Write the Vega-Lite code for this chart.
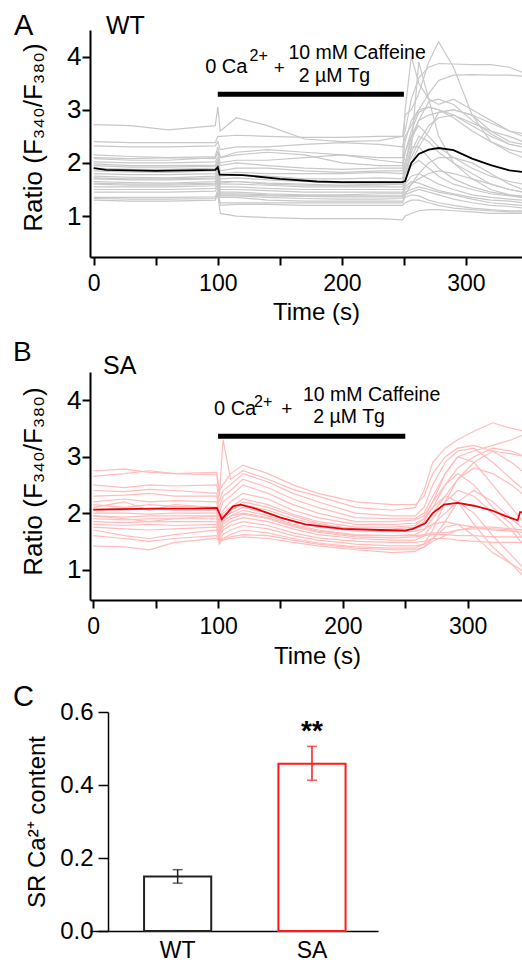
{
"$schema":"https://vega.github.io/schema/vega-lite/v6.json",
"padding":{"left":12,"top":12,"right":0,"bottom":0},
"config":{"font":"Liberation Sans","view":{"stroke":null},"axis":{"grid":false,"domainColor":"black","tickColor":"black","labelColor":"black","titleColor":"black","titleFontWeight":"normal","labelFont":"Liberation Sans","titleFont":"Liberation Sans"},"text":{"font":"Liberation Sans","color":"black"},"title":{"font":"Liberation Sans","color":"black"}},
"datasets":{
"A":[
{"c":"a1","t":0,"r":2.72},{"c":"a1","t":30,"r":2.7},{"c":"a1","t":60,"r":2.62},{"c":"a1","t":98,"r":2.7},{"c":"a1","t":100,"r":3.05},{"c":"a1","t":102,"r":2.6},{"c":"a1","t":115,"r":2.85},{"c":"a1","t":140,"r":2.7},{"c":"a1","t":170,"r":2.45},{"c":"a1","t":200,"r":2.4},{"c":"a1","t":230,"r":2.42},{"c":"a1","t":249,"r":2.5},{"c":"a1","t":251,"r":2.9},{"c":"a1","t":256,"r":3},{"c":"a1","t":262,"r":3.3},{"c":"a1","t":270,"r":3.9},{"c":"a1","t":278,"r":4.28},{"c":"a1","t":290,"r":3.8},{"c":"a1","t":305,"r":2.9},{"c":"a1","t":320,"r":2.4},{"c":"a1","t":335,"r":2.2},{"c":"a1","t":346,"r":2.1},
{"c":"a2","t":0,"r":2.4},{"c":"a2","t":30,"r":2.38},{"c":"a2","t":60,"r":2.38},{"c":"a2","t":98,"r":2.38},{"c":"a2","t":100,"r":2.5},{"c":"a2","t":102,"r":2.5},{"c":"a2","t":115,"r":2.52},{"c":"a2","t":140,"r":2.5},{"c":"a2","t":170,"r":2.48},{"c":"a2","t":200,"r":2.48},{"c":"a2","t":230,"r":2.5},{"c":"a2","t":249,"r":2.5},{"c":"a2","t":251,"r":2.6},{"c":"a2","t":256,"r":3.2},{"c":"a2","t":262,"r":3.6},{"c":"a2","t":270,"r":3.8},{"c":"a2","t":278,"r":3.87},{"c":"a2","t":290,"r":3.86},{"c":"a2","t":305,"r":3.85},{"c":"a2","t":320,"r":3.85},{"c":"a2","t":335,"r":3.8},{"c":"a2","t":346,"r":3.7},
{"c":"a3","t":0,"r":2.32},{"c":"a3","t":30,"r":2.3},{"c":"a3","t":60,"r":2.3},{"c":"a3","t":98,"r":2.32},{"c":"a3","t":100,"r":2.4},{"c":"a3","t":102,"r":2.25},{"c":"a3","t":115,"r":2.3},{"c":"a3","t":140,"r":2.3},{"c":"a3","t":170,"r":2.35},{"c":"a3","t":200,"r":2.38},{"c":"a3","t":230,"r":2.35},{"c":"a3","t":249,"r":2.3},{"c":"a3","t":251,"r":2.5},{"c":"a3","t":256,"r":2.7},{"c":"a3","t":262,"r":3},{"c":"a3","t":270,"r":3.3},{"c":"a3","t":278,"r":3.55},{"c":"a3","t":290,"r":3.65},{"c":"a3","t":305,"r":3.66},{"c":"a3","t":320,"r":3.65},{"c":"a3","t":335,"r":3.65},{"c":"a3","t":346,"r":3.63},
{"c":"a4","t":0,"r":2.15},{"c":"a4","t":30,"r":2.12},{"c":"a4","t":60,"r":2.1},{"c":"a4","t":98,"r":2.12},{"c":"a4","t":100,"r":2.3},{"c":"a4","t":102,"r":2.1},{"c":"a4","t":115,"r":2.2},{"c":"a4","t":140,"r":2.25},{"c":"a4","t":170,"r":2.2},{"c":"a4","t":200,"r":2.15},{"c":"a4","t":230,"r":2.1},{"c":"a4","t":249,"r":2.1},{"c":"a4","t":251,"r":3},{"c":"a4","t":256,"r":4},{"c":"a4","t":262,"r":3.5},{"c":"a4","t":270,"r":3.2},{"c":"a4","t":278,"r":3.1},{"c":"a4","t":290,"r":3.2},{"c":"a4","t":305,"r":3},{"c":"a4","t":320,"r":2.8},{"c":"a4","t":335,"r":2.6},{"c":"a4","t":346,"r":2.5},
{"c":"a5","t":0,"r":2.08},{"c":"a5","t":30,"r":2.05},{"c":"a5","t":60,"r":2.05},{"c":"a5","t":98,"r":2.1},{"c":"a5","t":100,"r":2.2},{"c":"a5","t":102,"r":2},{"c":"a5","t":115,"r":2.05},{"c":"a5","t":140,"r":2.05},{"c":"a5","t":170,"r":2.1},{"c":"a5","t":200,"r":2.15},{"c":"a5","t":230,"r":2.05},{"c":"a5","t":249,"r":2},{"c":"a5","t":251,"r":2.4},{"c":"a5","t":256,"r":2.8},{"c":"a5","t":262,"r":3},{"c":"a5","t":270,"r":3.05},{"c":"a5","t":278,"r":3},{"c":"a5","t":290,"r":2.9},{"c":"a5","t":305,"r":2.75},{"c":"a5","t":320,"r":2.6},{"c":"a5","t":335,"r":2.5},{"c":"a5","t":346,"r":2.4},
{"c":"a6","t":0,"r":2.02},{"c":"a6","t":30,"r":2},{"c":"a6","t":60,"r":2},{"c":"a6","t":98,"r":2.02},{"c":"a6","t":100,"r":2.1},{"c":"a6","t":102,"r":1.95},{"c":"a6","t":115,"r":2},{"c":"a6","t":140,"r":1.95},{"c":"a6","t":170,"r":1.9},{"c":"a6","t":200,"r":1.88},{"c":"a6","t":230,"r":1.9},{"c":"a6","t":249,"r":1.9},{"c":"a6","t":251,"r":2.2},{"c":"a6","t":256,"r":2.6},{"c":"a6","t":262,"r":2.95},{"c":"a6","t":270,"r":3.05},{"c":"a6","t":278,"r":3},{"c":"a6","t":290,"r":2.85},{"c":"a6","t":305,"r":2.6},{"c":"a6","t":320,"r":2.4},{"c":"a6","t":335,"r":2.25},{"c":"a6","t":346,"r":2.2},
{"c":"a7","t":0,"r":1.98},{"c":"a7","t":30,"r":1.95},{"c":"a7","t":60,"r":1.95},{"c":"a7","t":98,"r":1.96},{"c":"a7","t":100,"r":2.05},{"c":"a7","t":102,"r":1.85},{"c":"a7","t":115,"r":1.9},{"c":"a7","t":140,"r":1.9},{"c":"a7","t":170,"r":1.85},{"c":"a7","t":200,"r":1.82},{"c":"a7","t":230,"r":1.85},{"c":"a7","t":249,"r":1.85},{"c":"a7","t":251,"r":2},{"c":"a7","t":256,"r":2.4},{"c":"a7","t":262,"r":2.8},{"c":"a7","t":270,"r":3.15},{"c":"a7","t":278,"r":3.2},{"c":"a7","t":290,"r":3.1},{"c":"a7","t":305,"r":2.8},{"c":"a7","t":320,"r":2.55},{"c":"a7","t":335,"r":2.35},{"c":"a7","t":346,"r":2.3},
{"c":"a8","t":0,"r":1.95},{"c":"a8","t":30,"r":1.92},{"c":"a8","t":60,"r":1.92},{"c":"a8","t":98,"r":1.94},{"c":"a8","t":100,"r":2},{"c":"a8","t":102,"r":1.8},{"c":"a8","t":115,"r":1.82},{"c":"a8","t":140,"r":1.8},{"c":"a8","t":170,"r":1.8},{"c":"a8","t":200,"r":1.8},{"c":"a8","t":230,"r":1.82},{"c":"a8","t":249,"r":1.8},{"c":"a8","t":251,"r":1.9},{"c":"a8","t":256,"r":2.1},{"c":"a8","t":262,"r":2.4},{"c":"a8","t":270,"r":2.7},{"c":"a8","t":278,"r":2.85},{"c":"a8","t":290,"r":2.9},{"c":"a8","t":305,"r":2.7},{"c":"a8","t":320,"r":2.5},{"c":"a8","t":335,"r":2.35},{"c":"a8","t":346,"r":2.3},
{"c":"a9","t":0,"r":1.9},{"c":"a9","t":30,"r":1.88},{"c":"a9","t":60,"r":1.88},{"c":"a9","t":98,"r":1.9},{"c":"a9","t":100,"r":2},{"c":"a9","t":102,"r":1.75},{"c":"a9","t":115,"r":1.78},{"c":"a9","t":140,"r":1.75},{"c":"a9","t":170,"r":1.7},{"c":"a9","t":200,"r":1.7},{"c":"a9","t":230,"r":1.72},{"c":"a9","t":249,"r":1.7},{"c":"a9","t":251,"r":2},{"c":"a9","t":256,"r":2.5},{"c":"a9","t":262,"r":2.7},{"c":"a9","t":270,"r":2.5},{"c":"a9","t":278,"r":2.3},{"c":"a9","t":290,"r":2.1},{"c":"a9","t":305,"r":1.9},{"c":"a9","t":320,"r":1.75},{"c":"a9","t":335,"r":1.65},{"c":"a9","t":346,"r":1.6},
{"c":"a10","t":0,"r":1.85},{"c":"a10","t":30,"r":1.83},{"c":"a10","t":60,"r":1.82},{"c":"a10","t":98,"r":1.85},{"c":"a10","t":100,"r":1.95},{"c":"a10","t":102,"r":1.7},{"c":"a10","t":115,"r":1.72},{"c":"a10","t":140,"r":1.68},{"c":"a10","t":170,"r":1.65},{"c":"a10","t":200,"r":1.62},{"c":"a10","t":230,"r":1.62},{"c":"a10","t":249,"r":1.62},{"c":"a10","t":251,"r":1.8},{"c":"a10","t":256,"r":2.2},{"c":"a10","t":262,"r":2.5},{"c":"a10","t":270,"r":2.4},{"c":"a10","t":278,"r":2.2},{"c":"a10","t":290,"r":2},{"c":"a10","t":305,"r":1.8},{"c":"a10","t":320,"r":1.6},{"c":"a10","t":335,"r":1.5},{"c":"a10","t":346,"r":1.45},
{"c":"a11","t":0,"r":1.8},{"c":"a11","t":30,"r":1.78},{"c":"a11","t":60,"r":1.78},{"c":"a11","t":98,"r":1.8},{"c":"a11","t":100,"r":1.9},{"c":"a11","t":102,"r":1.65},{"c":"a11","t":115,"r":1.65},{"c":"a11","t":140,"r":1.6},{"c":"a11","t":170,"r":1.58},{"c":"a11","t":200,"r":1.58},{"c":"a11","t":230,"r":1.58},{"c":"a11","t":249,"r":1.6},{"c":"a11","t":251,"r":1.9},{"c":"a11","t":256,"r":2.3},{"c":"a11","t":262,"r":2.3},{"c":"a11","t":270,"r":2.1},{"c":"a11","t":278,"r":1.9},{"c":"a11","t":290,"r":1.7},{"c":"a11","t":305,"r":1.55},{"c":"a11","t":320,"r":1.45},{"c":"a11","t":335,"r":1.4},{"c":"a11","t":346,"r":1.38},
{"c":"a12","t":0,"r":1.75},{"c":"a12","t":30,"r":1.73},{"c":"a12","t":60,"r":1.72},{"c":"a12","t":98,"r":1.75},{"c":"a12","t":100,"r":1.85},{"c":"a12","t":102,"r":1.6},{"c":"a12","t":115,"r":1.6},{"c":"a12","t":140,"r":1.58},{"c":"a12","t":170,"r":1.55},{"c":"a12","t":200,"r":1.55},{"c":"a12","t":230,"r":1.55},{"c":"a12","t":249,"r":1.55},{"c":"a12","t":251,"r":1.7},{"c":"a12","t":256,"r":1.95},{"c":"a12","t":262,"r":2.05},{"c":"a12","t":270,"r":1.9},{"c":"a12","t":278,"r":1.75},{"c":"a12","t":290,"r":1.6},{"c":"a12","t":305,"r":1.5},{"c":"a12","t":320,"r":1.42},{"c":"a12","t":335,"r":1.38},{"c":"a12","t":346,"r":1.35},
{"c":"a13","t":0,"r":1.7},{"c":"a13","t":30,"r":1.68},{"c":"a13","t":60,"r":1.68},{"c":"a13","t":98,"r":1.7},{"c":"a13","t":100,"r":1.8},{"c":"a13","t":102,"r":1.55},{"c":"a13","t":115,"r":1.55},{"c":"a13","t":140,"r":1.52},{"c":"a13","t":170,"r":1.5},{"c":"a13","t":200,"r":1.5},{"c":"a13","t":230,"r":1.5},{"c":"a13","t":249,"r":1.5},{"c":"a13","t":251,"r":1.6},{"c":"a13","t":256,"r":1.75},{"c":"a13","t":262,"r":1.8},{"c":"a13","t":270,"r":1.7},{"c":"a13","t":278,"r":1.6},{"c":"a13","t":290,"r":1.5},{"c":"a13","t":305,"r":1.4},{"c":"a13","t":320,"r":1.35},{"c":"a13","t":335,"r":1.32},{"c":"a13","t":346,"r":1.3},
{"c":"a14","t":0,"r":1.65},{"c":"a14","t":30,"r":1.63},{"c":"a14","t":60,"r":1.62},{"c":"a14","t":98,"r":1.65},{"c":"a14","t":100,"r":1.75},{"c":"a14","t":102,"r":1.5},{"c":"a14","t":115,"r":1.5},{"c":"a14","t":140,"r":1.48},{"c":"a14","t":170,"r":1.45},{"c":"a14","t":200,"r":1.45},{"c":"a14","t":230,"r":1.45},{"c":"a14","t":249,"r":1.45},{"c":"a14","t":251,"r":1.55},{"c":"a14","t":256,"r":1.65},{"c":"a14","t":262,"r":1.62},{"c":"a14","t":270,"r":1.55},{"c":"a14","t":278,"r":1.48},{"c":"a14","t":290,"r":1.42},{"c":"a14","t":305,"r":1.35},{"c":"a14","t":320,"r":1.3},{"c":"a14","t":335,"r":1.28},{"c":"a14","t":346,"r":1.25},
{"c":"a15","t":0,"r":1.6},{"c":"a15","t":30,"r":1.58},{"c":"a15","t":60,"r":1.58},{"c":"a15","t":98,"r":1.6},{"c":"a15","t":100,"r":1.7},{"c":"a15","t":102,"r":1.45},{"c":"a15","t":115,"r":1.45},{"c":"a15","t":140,"r":1.42},{"c":"a15","t":170,"r":1.4},{"c":"a15","t":200,"r":1.4},{"c":"a15","t":230,"r":1.42},{"c":"a15","t":249,"r":1.42},{"c":"a15","t":251,"r":1.5},{"c":"a15","t":256,"r":1.6},{"c":"a15","t":262,"r":1.7},{"c":"a15","t":270,"r":1.8},{"c":"a15","t":278,"r":1.85},{"c":"a15","t":290,"r":1.8},{"c":"a15","t":305,"r":1.7},{"c":"a15","t":320,"r":1.6},{"c":"a15","t":335,"r":1.5},{"c":"a15","t":346,"r":1.45},
{"c":"a16","t":0,"r":1.55},{"c":"a16","t":30,"r":1.55},{"c":"a16","t":60,"r":1.55},{"c":"a16","t":98,"r":1.57},{"c":"a16","t":100,"r":1.65},{"c":"a16","t":102,"r":1.42},{"c":"a16","t":115,"r":1.42},{"c":"a16","t":140,"r":1.4},{"c":"a16","t":170,"r":1.38},{"c":"a16","t":200,"r":1.38},{"c":"a16","t":230,"r":1.38},{"c":"a16","t":249,"r":1.38},{"c":"a16","t":251,"r":1.45},{"c":"a16","t":256,"r":1.5},{"c":"a16","t":262,"r":1.55},{"c":"a16","t":270,"r":1.5},{"c":"a16","t":278,"r":1.45},{"c":"a16","t":290,"r":1.4},{"c":"a16","t":305,"r":1.32},{"c":"a16","t":320,"r":1.25},{"c":"a16","t":335,"r":1.22},{"c":"a16","t":346,"r":1.2},
{"c":"a17","t":0,"r":1.5},{"c":"a17","t":30,"r":1.5},{"c":"a17","t":60,"r":1.5},{"c":"a17","t":98,"r":1.52},{"c":"a17","t":100,"r":1.6},{"c":"a17","t":102,"r":1.38},{"c":"a17","t":115,"r":1.38},{"c":"a17","t":140,"r":1.35},{"c":"a17","t":170,"r":1.33},{"c":"a17","t":200,"r":1.32},{"c":"a17","t":230,"r":1.32},{"c":"a17","t":249,"r":1.33},{"c":"a17","t":251,"r":1.4},{"c":"a17","t":256,"r":1.45},{"c":"a17","t":262,"r":1.5},{"c":"a17","t":270,"r":1.45},{"c":"a17","t":278,"r":1.4},{"c":"a17","t":290,"r":1.32},{"c":"a17","t":305,"r":1.25},{"c":"a17","t":320,"r":1.2},{"c":"a17","t":335,"r":1.18},{"c":"a17","t":346,"r":1.15},
{"c":"a18","t":0,"r":1.45},{"c":"a18","t":30,"r":1.45},{"c":"a18","t":60,"r":1.45},{"c":"a18","t":98,"r":1.47},{"c":"a18","t":100,"r":1.55},{"c":"a18","t":102,"r":1.35},{"c":"a18","t":115,"r":1.35},{"c":"a18","t":140,"r":1.3},{"c":"a18","t":170,"r":1.28},{"c":"a18","t":200,"r":1.28},{"c":"a18","t":230,"r":1.28},{"c":"a18","t":249,"r":1.28},{"c":"a18","t":251,"r":1.35},{"c":"a18","t":256,"r":1.4},{"c":"a18","t":262,"r":1.38},{"c":"a18","t":270,"r":1.3},{"c":"a18","t":278,"r":1.25},{"c":"a18","t":290,"r":1.2},{"c":"a18","t":305,"r":1.15},{"c":"a18","t":320,"r":1.12},{"c":"a18","t":335,"r":1.1},{"c":"a18","t":346,"r":1.1},
{"c":"a19","t":0,"r":1.33},{"c":"a19","t":30,"r":1.32},{"c":"a19","t":60,"r":1.32},{"c":"a19","t":98,"r":1.33},{"c":"a19","t":100,"r":1.5},{"c":"a19","t":102,"r":1.2},{"c":"a19","t":115,"r":1.22},{"c":"a19","t":140,"r":1.22},{"c":"a19","t":170,"r":1.2},{"c":"a19","t":200,"r":1.2},{"c":"a19","t":230,"r":1.2},{"c":"a19","t":249,"r":1.2},{"c":"a19","t":251,"r":1.25},{"c":"a19","t":256,"r":1.3},{"c":"a19","t":262,"r":1.3},{"c":"a19","t":270,"r":1.25},{"c":"a19","t":278,"r":1.2},{"c":"a19","t":290,"r":1.15},{"c":"a19","t":305,"r":1.12},{"c":"a19","t":320,"r":1.1},{"c":"a19","t":335,"r":1.08},{"c":"a19","t":346,"r":1.08},
{"c":"a20","t":0,"r":1.3},{"c":"a20","t":30,"r":1.28},{"c":"a20","t":60,"r":1.28},{"c":"a20","t":98,"r":1.3},{"c":"a20","t":100,"r":1.4},{"c":"a20","t":102,"r":1.05},{"c":"a20","t":115,"r":1},{"c":"a20","t":140,"r":0.97},{"c":"a20","t":170,"r":0.95},{"c":"a20","t":200,"r":0.95},{"c":"a20","t":230,"r":0.95},{"c":"a20","t":249,"r":0.93},{"c":"a20","t":251,"r":1},{"c":"a20","t":256,"r":1.05},{"c":"a20","t":262,"r":1.1},{"c":"a20","t":270,"r":1.12},{"c":"a20","t":278,"r":1.12},{"c":"a20","t":290,"r":1.1},{"c":"a20","t":305,"r":1.08},{"c":"a20","t":320,"r":1.05},{"c":"a20","t":335,"r":1.05},{"c":"a20","t":346,"r":1.05},
{"c":"a21","t":0,"r":2.1},{"c":"a21","t":30,"r":2.08},{"c":"a21","t":60,"r":2.1},{"c":"a21","t":98,"r":2.08},{"c":"a21","t":100,"r":2.2},{"c":"a21","t":102,"r":2.1},{"c":"a21","t":115,"r":2.15},{"c":"a21","t":140,"r":2.2},{"c":"a21","t":170,"r":2.15},{"c":"a21","t":200,"r":2},{"c":"a21","t":230,"r":1.95},{"c":"a21","t":249,"r":1.95},{"c":"a21","t":251,"r":2.2},{"c":"a21","t":256,"r":2.5},{"c":"a21","t":262,"r":2.8},{"c":"a21","t":270,"r":2.9},{"c":"a21","t":278,"r":2.95},{"c":"a21","t":290,"r":3},{"c":"a21","t":305,"r":2.9},{"c":"a21","t":320,"r":2.75},{"c":"a21","t":335,"r":2.6},{"c":"a21","t":346,"r":2.55},
{"c":"a22","t":0,"r":1.72},{"c":"a22","t":30,"r":1.7},{"c":"a22","t":60,"r":1.7},{"c":"a22","t":98,"r":1.72},{"c":"a22","t":100,"r":1.8},{"c":"a22","t":102,"r":1.62},{"c":"a22","t":115,"r":1.65},{"c":"a22","t":140,"r":1.62},{"c":"a22","t":170,"r":1.6},{"c":"a22","t":200,"r":1.58},{"c":"a22","t":230,"r":1.6},{"c":"a22","t":249,"r":1.6},{"c":"a22","t":251,"r":1.8},{"c":"a22","t":256,"r":2},{"c":"a22","t":262,"r":2.3},{"c":"a22","t":270,"r":2.6},{"c":"a22","t":278,"r":2.95},{"c":"a22","t":290,"r":3},{"c":"a22","t":305,"r":2.9},{"c":"a22","t":320,"r":2.6},{"c":"a22","t":335,"r":2.4},{"c":"a22","t":346,"r":2.35},
{"c":"a23","t":0,"r":1.62},{"c":"a23","t":30,"r":1.6},{"c":"a23","t":60,"r":1.6},{"c":"a23","t":98,"r":1.62},{"c":"a23","t":100,"r":1.7},{"c":"a23","t":102,"r":1.4},{"c":"a23","t":115,"r":1.4},{"c":"a23","t":140,"r":1.38},{"c":"a23","t":170,"r":1.37},{"c":"a23","t":200,"r":1.36},{"c":"a23","t":230,"r":1.36},{"c":"a23","t":249,"r":1.36},{"c":"a23","t":251,"r":1.6},{"c":"a23","t":256,"r":2.3},{"c":"a23","t":262,"r":3.9},{"c":"a23","t":270,"r":3.2},{"c":"a23","t":278,"r":2.5},{"c":"a23","t":290,"r":2},{"c":"a23","t":305,"r":1.7},{"c":"a23","t":320,"r":1.5},{"c":"a23","t":335,"r":1.4},{"c":"a23","t":346,"r":1.35},
{"c":"a24","t":0,"r":1.35},{"c":"a24","t":30,"r":1.35},{"c":"a24","t":60,"r":1.35},{"c":"a24","t":98,"r":1.36},{"c":"a24","t":100,"r":1.45},{"c":"a24","t":102,"r":1.25},{"c":"a24","t":115,"r":1.25},{"c":"a24","t":140,"r":1.25},{"c":"a24","t":170,"r":1.25},{"c":"a24","t":200,"r":1.25},{"c":"a24","t":230,"r":1.25},{"c":"a24","t":249,"r":1.25},{"c":"a24","t":251,"r":1.4},{"c":"a24","t":256,"r":1.6},{"c":"a24","t":262,"r":1.8},{"c":"a24","t":270,"r":2},{"c":"a24","t":278,"r":2.1},{"c":"a24","t":290,"r":2.1},{"c":"a24","t":305,"r":2},{"c":"a24","t":320,"r":1.8},{"c":"a24","t":335,"r":1.6},{"c":"a24","t":346,"r":1.5}
],
"Am":[
{"t":0,"r":1.9},{"t":10,"r":1.87},{"t":50,"r":1.85},{"t":98,"r":1.87},{"t":100,"r":1.92},{"t":101.5,"r":1.78},{"t":120,"r":1.77},{"t":150,"r":1.7},{"t":180,"r":1.65},{"t":200,"r":1.64},{"t":249,"r":1.64},{"t":251,"r":1.66},{"t":256,"r":2},{"t":262,"r":2.17},{"t":270,"r":2.25},{"t":278,"r":2.28},{"t":290,"r":2.24},{"t":305,"r":2.08},{"t":320,"r":1.96},{"t":335,"r":1.86},{"t":346,"r":1.83}
],
"B":[
{"c":"b1","t":0,"r":2.75},{"c":"b1","t":25,"r":2.78},{"c":"b1","t":45,"r":2.72},{"c":"b1","t":65,"r":2.7},{"c":"b1","t":99,"r":2.72},{"c":"b1","t":101,"r":2.4},{"c":"b1","t":104,"r":2.5},{"c":"b1","t":110,"r":2.7},{"c":"b1","t":120,"r":2.85},{"c":"b1","t":140,"r":2.7},{"c":"b1","t":160,"r":2.5},{"c":"b1","t":180,"r":2.35},{"c":"b1","t":210,"r":2.2},{"c":"b1","t":240,"r":2.15},{"c":"b1","t":258,"r":2.15},{"c":"b1","t":265,"r":2.3},{"c":"b1","t":272,"r":2.7},{"c":"b1","t":282,"r":3},{"c":"b1","t":292,"r":3.15},{"c":"b1","t":305,"r":3.2},{"c":"b1","t":320,"r":3.1},{"c":"b1","t":335,"r":2.9},{"c":"b1","t":346,"r":2.7},
{"c":"b2","t":0,"r":2.65},{"c":"b2","t":25,"r":2.7},{"c":"b2","t":45,"r":2.75},{"c":"b2","t":65,"r":2.7},{"c":"b2","t":99,"r":2.68},{"c":"b2","t":101,"r":2.3},{"c":"b2","t":104,"r":3.3},{"c":"b2","t":110,"r":2.6},{"c":"b2","t":120,"r":2.75},{"c":"b2","t":140,"r":2.6},{"c":"b2","t":160,"r":2.42},{"c":"b2","t":180,"r":2.3},{"c":"b2","t":210,"r":2.1},{"c":"b2","t":240,"r":2.05},{"c":"b2","t":258,"r":2.1},{"c":"b2","t":265,"r":2.4},{"c":"b2","t":272,"r":2.9},{"c":"b2","t":282,"r":3.15},{"c":"b2","t":292,"r":3.3},{"c":"b2","t":305,"r":3.45},{"c":"b2","t":320,"r":3.6},{"c":"b2","t":335,"r":3.5},{"c":"b2","t":346,"r":3.45},
{"c":"b3","t":0,"r":2.5},{"c":"b3","t":25,"r":2.45},{"c":"b3","t":45,"r":2.5},{"c":"b3","t":65,"r":2.48},{"c":"b3","t":99,"r":2.5},{"c":"b3","t":101,"r":2.2},{"c":"b3","t":104,"r":2.4},{"c":"b3","t":110,"r":2.5},{"c":"b3","t":120,"r":2.7},{"c":"b3","t":140,"r":2.55},{"c":"b3","t":160,"r":2.35},{"c":"b3","t":180,"r":2.2},{"c":"b3","t":210,"r":2},{"c":"b3","t":240,"r":1.95},{"c":"b3","t":258,"r":1.95},{"c":"b3","t":265,"r":2.1},{"c":"b3","t":272,"r":2.5},{"c":"b3","t":282,"r":2.9},{"c":"b3","t":292,"r":3.1},{"c":"b3","t":305,"r":3.15},{"c":"b3","t":320,"r":2.9},{"c":"b3","t":335,"r":2.6},{"c":"b3","t":346,"r":2.4},
{"c":"b4","t":0,"r":2.4},{"c":"b4","t":25,"r":2.38},{"c":"b4","t":45,"r":2.42},{"c":"b4","t":65,"r":2.4},{"c":"b4","t":99,"r":2.35},{"c":"b4","t":101,"r":2.1},{"c":"b4","t":104,"r":2.3},{"c":"b4","t":110,"r":2.4},{"c":"b4","t":120,"r":2.6},{"c":"b4","t":140,"r":2.45},{"c":"b4","t":160,"r":2.25},{"c":"b4","t":180,"r":2.1},{"c":"b4","t":210,"r":1.92},{"c":"b4","t":240,"r":1.9},{"c":"b4","t":258,"r":1.9},{"c":"b4","t":265,"r":2},{"c":"b4","t":272,"r":2.3},{"c":"b4","t":282,"r":2.7},{"c":"b4","t":292,"r":3},{"c":"b4","t":305,"r":2.9},{"c":"b4","t":320,"r":2.5},{"c":"b4","t":335,"r":2.1},{"c":"b4","t":346,"r":1.8},
{"c":"b5","t":0,"r":2.3},{"c":"b5","t":25,"r":2.32},{"c":"b5","t":45,"r":2.35},{"c":"b5","t":65,"r":2.3},{"c":"b5","t":99,"r":2.3},{"c":"b5","t":101,"r":2},{"c":"b5","t":104,"r":2.2},{"c":"b5","t":110,"r":2.3},{"c":"b5","t":120,"r":2.5},{"c":"b5","t":140,"r":2.35},{"c":"b5","t":160,"r":2.15},{"c":"b5","t":180,"r":2},{"c":"b5","t":210,"r":1.85},{"c":"b5","t":240,"r":1.85},{"c":"b5","t":258,"r":1.88},{"c":"b5","t":265,"r":1.95},{"c":"b5","t":272,"r":2.2},{"c":"b5","t":282,"r":2.5},{"c":"b5","t":292,"r":2.7},{"c":"b5","t":305,"r":2.5},{"c":"b5","t":320,"r":2.1},{"c":"b5","t":335,"r":1.8},{"c":"b5","t":346,"r":1.5},
{"c":"b6","t":0,"r":2.2},{"c":"b6","t":25,"r":2.25},{"c":"b6","t":45,"r":2.2},{"c":"b6","t":65,"r":2.22},{"c":"b6","t":99,"r":2.2},{"c":"b6","t":101,"r":1.9},{"c":"b6","t":104,"r":2.05},{"c":"b6","t":110,"r":2.2},{"c":"b6","t":120,"r":2.35},{"c":"b6","t":140,"r":2.25},{"c":"b6","t":160,"r":2.05},{"c":"b6","t":180,"r":1.92},{"c":"b6","t":210,"r":1.8},{"c":"b6","t":240,"r":1.8},{"c":"b6","t":258,"r":1.82},{"c":"b6","t":265,"r":1.9},{"c":"b6","t":272,"r":2.1},{"c":"b6","t":282,"r":2.3},{"c":"b6","t":292,"r":2.2},{"c":"b6","t":305,"r":1.8},{"c":"b6","t":320,"r":1.4},{"c":"b6","t":335,"r":1.1},{"c":"b6","t":346,"r":0.85},
{"c":"b7","t":0,"r":2.15},{"c":"b7","t":25,"r":2.1},{"c":"b7","t":45,"r":2.15},{"c":"b7","t":65,"r":2.12},{"c":"b7","t":99,"r":2.1},{"c":"b7","t":101,"r":1.85},{"c":"b7","t":104,"r":2},{"c":"b7","t":110,"r":2.1},{"c":"b7","t":120,"r":2.25},{"c":"b7","t":140,"r":2.15},{"c":"b7","t":160,"r":1.98},{"c":"b7","t":180,"r":1.85},{"c":"b7","t":210,"r":1.75},{"c":"b7","t":240,"r":1.75},{"c":"b7","t":258,"r":1.78},{"c":"b7","t":265,"r":1.9},{"c":"b7","t":272,"r":2.2},{"c":"b7","t":282,"r":2.7},{"c":"b7","t":292,"r":3},{"c":"b7","t":305,"r":3.1},{"c":"b7","t":320,"r":3.2},{"c":"b7","t":335,"r":3.3},{"c":"b7","t":346,"r":3.4},
{"c":"b8","t":0,"r":2.05},{"c":"b8","t":25,"r":2.05},{"c":"b8","t":45,"r":2.08},{"c":"b8","t":65,"r":2.05},{"c":"b8","t":99,"r":2.05},{"c":"b8","t":101,"r":1.8},{"c":"b8","t":104,"r":1.95},{"c":"b8","t":110,"r":2.05},{"c":"b8","t":120,"r":2.15},{"c":"b8","t":140,"r":2.05},{"c":"b8","t":160,"r":1.9},{"c":"b8","t":180,"r":1.8},{"c":"b8","t":210,"r":1.72},{"c":"b8","t":240,"r":1.7},{"c":"b8","t":258,"r":1.72},{"c":"b8","t":265,"r":1.8},{"c":"b8","t":272,"r":2},{"c":"b8","t":282,"r":2.3},{"c":"b8","t":292,"r":2.6},{"c":"b8","t":305,"r":2.8},{"c":"b8","t":320,"r":2.7},{"c":"b8","t":335,"r":2.5},{"c":"b8","t":346,"r":2.3},
{"c":"b9","t":0,"r":2},{"c":"b9","t":25,"r":2},{"c":"b9","t":45,"r":1.98},{"c":"b9","t":65,"r":2},{"c":"b9","t":99,"r":2},{"c":"b9","t":101,"r":1.75},{"c":"b9","t":104,"r":1.9},{"c":"b9","t":110,"r":2},{"c":"b9","t":120,"r":2.1},{"c":"b9","t":140,"r":2},{"c":"b9","t":160,"r":1.85},{"c":"b9","t":180,"r":1.75},{"c":"b9","t":210,"r":1.68},{"c":"b9","t":240,"r":1.67},{"c":"b9","t":258,"r":1.68},{"c":"b9","t":265,"r":1.72},{"c":"b9","t":272,"r":1.8},{"c":"b9","t":282,"r":1.85},{"c":"b9","t":292,"r":1.8},{"c":"b9","t":305,"r":1.75},{"c":"b9","t":320,"r":1.7},{"c":"b9","t":335,"r":1.68},{"c":"b9","t":346,"r":1.65},
{"c":"b10","t":0,"r":1.95},{"c":"b10","t":25,"r":1.93},{"c":"b10","t":45,"r":1.95},{"c":"b10","t":65,"r":1.95},{"c":"b10","t":99,"r":1.95},{"c":"b10","t":101,"r":1.7},{"c":"b10","t":104,"r":1.85},{"c":"b10","t":110,"r":1.95},{"c":"b10","t":120,"r":2.05},{"c":"b10","t":140,"r":1.95},{"c":"b10","t":160,"r":1.8},{"c":"b10","t":180,"r":1.7},{"c":"b10","t":210,"r":1.62},{"c":"b10","t":240,"r":1.6},{"c":"b10","t":258,"r":1.62},{"c":"b10","t":265,"r":1.7},{"c":"b10","t":272,"r":1.9},{"c":"b10","t":282,"r":2.2},{"c":"b10","t":292,"r":2.4},{"c":"b10","t":305,"r":2.3},{"c":"b10","t":320,"r":2},{"c":"b10","t":335,"r":1.7},{"c":"b10","t":346,"r":1.4},
{"c":"b11","t":0,"r":1.9},{"c":"b11","t":25,"r":1.88},{"c":"b11","t":45,"r":1.9},{"c":"b11","t":65,"r":1.9},{"c":"b11","t":99,"r":1.9},{"c":"b11","t":101,"r":1.65},{"c":"b11","t":104,"r":1.8},{"c":"b11","t":110,"r":1.9},{"c":"b11","t":120,"r":1.98},{"c":"b11","t":140,"r":1.9},{"c":"b11","t":160,"r":1.76},{"c":"b11","t":180,"r":1.66},{"c":"b11","t":210,"r":1.58},{"c":"b11","t":240,"r":1.56},{"c":"b11","t":258,"r":1.58},{"c":"b11","t":265,"r":1.6},{"c":"b11","t":272,"r":1.62},{"c":"b11","t":282,"r":1.62},{"c":"b11","t":292,"r":1.6},{"c":"b11","t":305,"r":1.6},{"c":"b11","t":320,"r":1.58},{"c":"b11","t":335,"r":1.58},{"c":"b11","t":346,"r":1.58},
{"c":"b12","t":0,"r":1.85},{"c":"b12","t":25,"r":1.83},{"c":"b12","t":45,"r":1.85},{"c":"b12","t":65,"r":1.85},{"c":"b12","t":99,"r":1.85},{"c":"b12","t":101,"r":1.6},{"c":"b12","t":104,"r":1.75},{"c":"b12","t":110,"r":1.85},{"c":"b12","t":120,"r":1.92},{"c":"b12","t":140,"r":1.85},{"c":"b12","t":160,"r":1.72},{"c":"b12","t":180,"r":1.62},{"c":"b12","t":210,"r":1.55},{"c":"b12","t":240,"r":1.52},{"c":"b12","t":258,"r":1.52},{"c":"b12","t":265,"r":1.6},{"c":"b12","t":272,"r":1.8},{"c":"b12","t":282,"r":2},{"c":"b12","t":292,"r":2.2},{"c":"b12","t":305,"r":2},{"c":"b12","t":320,"r":1.6},{"c":"b12","t":335,"r":1.25},{"c":"b12","t":346,"r":1},
{"c":"b13","t":0,"r":1.8},{"c":"b13","t":25,"r":1.78},{"c":"b13","t":45,"r":1.8},{"c":"b13","t":65,"r":1.78},{"c":"b13","t":99,"r":1.8},{"c":"b13","t":101,"r":1.55},{"c":"b13","t":104,"r":1.7},{"c":"b13","t":110,"r":1.78},{"c":"b13","t":120,"r":1.85},{"c":"b13","t":140,"r":1.78},{"c":"b13","t":160,"r":1.65},{"c":"b13","t":180,"r":1.56},{"c":"b13","t":210,"r":1.5},{"c":"b13","t":240,"r":1.48},{"c":"b13","t":258,"r":1.48},{"c":"b13","t":265,"r":1.5},{"c":"b13","t":272,"r":1.55},{"c":"b13","t":282,"r":1.55},{"c":"b13","t":292,"r":1.52},{"c":"b13","t":305,"r":1.5},{"c":"b13","t":320,"r":1.48},{"c":"b13","t":335,"r":1.48},{"c":"b13","t":346,"r":1.48},
{"c":"b14","t":0,"r":1.75},{"c":"b14","t":25,"r":1.72},{"c":"b14","t":45,"r":1.7},{"c":"b14","t":65,"r":1.72},{"c":"b14","t":99,"r":1.75},{"c":"b14","t":101,"r":1.5},{"c":"b14","t":104,"r":1.62},{"c":"b14","t":110,"r":1.7},{"c":"b14","t":120,"r":1.78},{"c":"b14","t":140,"r":1.72},{"c":"b14","t":160,"r":1.6},{"c":"b14","t":180,"r":1.52},{"c":"b14","t":210,"r":1.45},{"c":"b14","t":240,"r":1.42},{"c":"b14","t":258,"r":1.42},{"c":"b14","t":265,"r":1.45},{"c":"b14","t":272,"r":1.55},{"c":"b14","t":282,"r":1.75},{"c":"b14","t":292,"r":1.8},{"c":"b14","t":305,"r":1.6},{"c":"b14","t":320,"r":1.3},{"c":"b14","t":335,"r":1.1},{"c":"b14","t":346,"r":0.95},
{"c":"b15","t":0,"r":1.7},{"c":"b15","t":25,"r":1.6},{"c":"b15","t":45,"r":1.55},{"c":"b15","t":65,"r":1.62},{"c":"b15","t":99,"r":1.7},{"c":"b15","t":101,"r":1.45},{"c":"b15","t":104,"r":1.55},{"c":"b15","t":110,"r":1.62},{"c":"b15","t":120,"r":1.7},{"c":"b15","t":140,"r":1.65},{"c":"b15","t":160,"r":1.55},{"c":"b15","t":180,"r":1.47},{"c":"b15","t":210,"r":1.4},{"c":"b15","t":240,"r":1.38},{"c":"b15","t":258,"r":1.38},{"c":"b15","t":265,"r":1.45},{"c":"b15","t":272,"r":1.7},{"c":"b15","t":282,"r":2.2},{"c":"b15","t":292,"r":2.6},{"c":"b15","t":305,"r":2.9},{"c":"b15","t":320,"r":3.1},{"c":"b15","t":335,"r":3.05},{"c":"b15","t":346,"r":3},
{"c":"b16","t":0,"r":1.6},{"c":"b16","t":25,"r":1.55},{"c":"b16","t":45,"r":1.5},{"c":"b16","t":65,"r":1.55},{"c":"b16","t":99,"r":1.6},{"c":"b16","t":101,"r":1.5},{"c":"b16","t":104,"r":1.55},{"c":"b16","t":110,"r":1.58},{"c":"b16","t":120,"r":1.62},{"c":"b16","t":140,"r":1.6},{"c":"b16","t":160,"r":1.52},{"c":"b16","t":180,"r":1.45},{"c":"b16","t":210,"r":1.38},{"c":"b16","t":240,"r":1.35},{"c":"b16","t":258,"r":1.35},{"c":"b16","t":265,"r":1.4},{"c":"b16","t":272,"r":1.5},{"c":"b16","t":282,"r":1.6},{"c":"b16","t":292,"r":1.7},{"c":"b16","t":305,"r":1.75},{"c":"b16","t":320,"r":1.75},{"c":"b16","t":335,"r":1.72},{"c":"b16","t":346,"r":1.7},
{"c":"b17","t":0,"r":1.42},{"c":"b17","t":25,"r":1.4},{"c":"b17","t":45,"r":1.35},{"c":"b17","t":65,"r":1.48},{"c":"b17","t":99,"r":1.55},{"c":"b17","t":101,"r":1.52},{"c":"b17","t":104,"r":1.52},{"c":"b17","t":110,"r":1.55},{"c":"b17","t":120,"r":1.58},{"c":"b17","t":140,"r":1.55},{"c":"b17","t":160,"r":1.48},{"c":"b17","t":180,"r":1.42},{"c":"b17","t":210,"r":1.35},{"c":"b17","t":240,"r":1.3},{"c":"b17","t":258,"r":1.32},{"c":"b17","t":265,"r":1.4},{"c":"b17","t":272,"r":1.55},{"c":"b17","t":282,"r":1.85},{"c":"b17","t":292,"r":2.2},{"c":"b17","t":305,"r":2.4},{"c":"b17","t":320,"r":2.2},{"c":"b17","t":335,"r":1.9},{"c":"b17","t":346,"r":1.7},
{"c":"b18","t":0,"r":2.1},{"c":"b18","t":25,"r":2.2},{"c":"b18","t":45,"r":2.05},{"c":"b18","t":65,"r":2.15},{"c":"b18","t":99,"r":2.1},{"c":"b18","t":101,"r":1.85},{"c":"b18","t":104,"r":1.95},{"c":"b18","t":110,"r":2.05},{"c":"b18","t":120,"r":2.2},{"c":"b18","t":140,"r":2.1},{"c":"b18","t":160,"r":1.95},{"c":"b18","t":180,"r":1.82},{"c":"b18","t":210,"r":1.7},{"c":"b18","t":240,"r":1.72},{"c":"b18","t":258,"r":1.75},{"c":"b18","t":265,"r":1.85},{"c":"b18","t":272,"r":2.1},{"c":"b18","t":282,"r":2.5},{"c":"b18","t":292,"r":2.8},{"c":"b18","t":305,"r":3},{"c":"b18","t":320,"r":3.15},{"c":"b18","t":335,"r":3.1},{"c":"b18","t":346,"r":3},
{"c":"b19","t":0,"r":1.95},{"c":"b19","t":25,"r":1.9},{"c":"b19","t":45,"r":1.85},{"c":"b19","t":65,"r":1.9},{"c":"b19","t":99,"r":1.95},{"c":"b19","t":101,"r":1.7},{"c":"b19","t":104,"r":1.85},{"c":"b19","t":110,"r":1.95},{"c":"b19","t":120,"r":2},{"c":"b19","t":140,"r":1.92},{"c":"b19","t":160,"r":1.78},{"c":"b19","t":180,"r":1.68},{"c":"b19","t":210,"r":1.6},{"c":"b19","t":240,"r":1.6},{"c":"b19","t":258,"r":1.6},{"c":"b19","t":265,"r":1.62},{"c":"b19","t":272,"r":1.65},{"c":"b19","t":282,"r":1.65},{"c":"b19","t":292,"r":1.7},{"c":"b19","t":305,"r":1.72},{"c":"b19","t":320,"r":1.72},{"c":"b19","t":335,"r":1.7},{"c":"b19","t":346,"r":1.7}
],
"Bm":[
{"t":0,"r":2.06},{"t":20,"r":2.07},{"t":50,"r":2.08},{"t":80,"r":2.08},{"t":99,"r":2.09},{"t":101,"r":2},{"t":103,"r":1.89},{"t":106,"r":1.97},{"t":112,"r":2.12},{"t":118,"r":2.15},{"t":130,"r":2.08},{"t":150,"r":1.92},{"t":170,"r":1.8},{"t":200,"r":1.72},{"t":230,"r":1.7},{"t":250,"r":1.69},{"t":256,"r":1.72},{"t":262,"r":1.78},{"t":266,"r":1.82},{"t":272,"r":2},{"t":281,"r":2.15},{"t":292,"r":2.18},{"t":305,"r":2.13},{"t":319,"r":2.05},{"t":330,"r":1.95},{"t":340,"r":1.87},{"t":342,"r":2.02},{"t":346,"r":2}
],
"C":[
{"g":"WT","m":0.149,"lo":0.131,"hi":0.168},
{"g":"SA","m":0.458,"lo":0.413,"hi":0.506}
]
},
"concat":[
{
"width":433,"height":227,
"layer":[
{"data":{"name":"A"},"mark":{"type":"line","color":"#c8c8c8","strokeWidth":1.2,"clip":true},
"encoding":{
"x":{"field":"t","type":"quantitative","title":"Time (s)","scale":{"domain":[-3,346],"nice":false,"zero":false},"axis":{"values":[0,50,100,150,200,250,300],"labelExpr":"datum.value % 100 === 0 ? datum.label : ''","tickSize":8,"tickWidth":2,"domainWidth":2,"labelFontSize":23,"labelPadding":7,"labelFlush":false,"titleFontSize":24,"titlePadding":5,"titleX":226}},
"y":{"field":"r","type":"quantitative","title":"Ratio (F₃₄₀/F₃₈₀)","scale":{"domain":[0.23,4.5],"nice":false,"zero":false},"axis":{"values":[1,2,3,4],"format":"d","tickSize":8,"tickWidth":2,"domainWidth":2,"labelFontSize":26,"labelPadding":1,"titleFontSize":26,"titlePadding":20,"titleY":107}},
"detail":{"field":"c","type":"nominal"}}},
{"data":{"name":"Am"},"mark":{"type":"line","color":"black","strokeWidth":1.8},"encoding":{"x":{"field":"t","type":"quantitative","title":"Time (s)"},"y":{"field":"r","type":"quantitative","title":"Ratio (F₃₄₀/F₃₈₀)"}}},
{"data":{"values":[{}]},"mark":{"type":"rule","strokeWidth":5,"color":"black"},"encoding":{"x":{"datum":100},"x2":{"datum":250},"y":{"datum":3.29}}},
{"data":{"values":[{}]},"mark":{"type":"text","text":"0 Ca","align":"left","baseline":"middle","fontSize":20},"encoding":{"x":{"datum":89.8},"y":{"datum":3.81}}},
{"data":{"values":[{}]},"mark":{"type":"text","text":"2+","align":"left","baseline":"middle","fontSize":16},"encoding":{"x":{"datum":125.6},"y":{"datum":4.01}}},
{"data":{"values":[{}]},"mark":{"type":"text","text":"+","align":"center","baseline":"middle","fontSize":19},"encoding":{"x":{"datum":149.5},"y":{"datum":3.78}}},
{"data":{"values":[{}]},"mark":{"type":"text","text":"10 mM Caffeine","align":"center","baseline":"middle","fontSize":19.5},"encoding":{"x":{"datum":212.3},"y":{"datum":4.06}}},
{"data":{"values":[{}]},"mark":{"type":"text","text":"2 µM Tg","align":"center","baseline":"middle","fontSize":19.5},"encoding":{"x":{"datum":194},"y":{"datum":3.63}}},
{"data":{"values":[{}]},"mark":{"type":"text","text":"WT","align":"left","baseline":"middle","fontSize":25},"encoding":{"x":{"datum":9.9},"y":{"datum":4.575}}},
{"data":{"values":[{}]},"mark":{"type":"text","text":"A","align":"left","baseline":"middle","fontSize":29},"encoding":{"x":{"datum":-64.3},"y":{"datum":4.575}}}
]
},
{
"width":433,"height":228,
"layer":[
{"data":{"name":"B"},"mark":{"type":"line","color":"#ffbcbc","strokeWidth":1.2,"clip":true},
"encoding":{
"x":{"field":"t","type":"quantitative","title":"Time (s)","scale":{"domain":[-2.6,344.3],"nice":false,"zero":false},"axis":{"values":[0,50,100,150,200,250,300],"labelExpr":"datum.value % 100 === 0 ? datum.label : ''","tickSize":8,"tickWidth":2,"domainWidth":2,"labelFontSize":23,"labelPadding":7,"labelFlush":false,"titleFontSize":24,"titlePadding":6,"titleX":227}},
"y":{"field":"r","type":"quantitative","title":"Ratio (F₃₄₀/F₃₈₀)","scale":{"domain":[0.46,4.5],"nice":false,"zero":false},"axis":{"values":[1,2,3,4],"format":"d","tickSize":8,"tickWidth":2,"domainWidth":2,"labelFontSize":26,"labelPadding":1,"titleFontSize":26,"titlePadding":20,"titleY":109}},
"detail":{"field":"c","type":"nominal"}}},
{"data":{"name":"Bm"},"mark":{"type":"line","color":"#e8000b","strokeWidth":1.8},"encoding":{"x":{"field":"t","type":"quantitative","title":"Time (s)"},"y":{"field":"r","type":"quantitative","title":"Ratio (F₃₄₀/F₃₈₀)"}}},
{"data":{"values":[{}]},"mark":{"type":"rule","strokeWidth":5,"color":"black"},"encoding":{"x":{"datum":100},"x2":{"datum":250},"y":{"datum":3.36}}},
{"data":{"values":[{}]},"mark":{"type":"text","text":"0 Ca","align":"left","baseline":"middle","fontSize":20},"encoding":{"x":{"datum":96.7},"y":{"datum":3.84}}},
{"data":{"values":[{}]},"mark":{"type":"text","text":"2+","align":"left","baseline":"middle","fontSize":16},"encoding":{"x":{"datum":128.8},"y":{"datum":3.96}}},
{"data":{"values":[{}]},"mark":{"type":"text","text":"+","align":"center","baseline":"middle","fontSize":19},"encoding":{"x":{"datum":155},"y":{"datum":3.84}}},
{"data":{"values":[{}]},"mark":{"type":"text","text":"10 mM Caffeine","align":"center","baseline":"middle","fontSize":19.5},"encoding":{"x":{"datum":223},"y":{"datum":4.1}}},
{"data":{"values":[{}]},"mark":{"type":"text","text":"2 µM Tg","align":"center","baseline":"middle","fontSize":19.5},"encoding":{"x":{"datum":205},"y":{"datum":3.71}}},
{"data":{"values":[{}]},"mark":{"type":"text","text":"SA","align":"left","baseline":"middle","fontSize":25},"encoding":{"x":{"datum":7.8},"y":{"datum":4.61}}},
{"data":{"values":[{}]},"mark":{"type":"text","text":"B","align":"left","baseline":"middle","fontSize":28},"encoding":{"x":{"datum":-64.3},"y":{"datum":4.83}}}
]
},
{
"width":288,"height":219,
"data":{"name":"C"},
"layer":[
{"mark":{"type":"bar","fill":"white","strokeWidth":2},
"encoding":{
"x":{"field":"g","type":"nominal","sort":["WT","SA"],"title":null,"scale":{"paddingInner":0.5,"paddingOuter":0.322,"align":0.625},"axis":{"labelAngle":0,"ticks":false,"domainWidth":1.5,"labelFontSize":23,"labelPadding":8}},
"y":{"field":"m","type":"quantitative","title":"SR Ca²⁺ content","scale":{"domain":[0,0.6],"nice":false},"axis":{"values":[0,0.2,0.4,0.6],"format":".1f","offset":-18,"tickSize":10,"tickWidth":1.5,"domainWidth":1.5,"labelFontSize":24,"labelPadding":5,"titleFontSize":24,"titlePadding":10}},
"stroke":{"field":"g","type":"nominal","scale":{"domain":["WT","SA"],"range":["#222222","#ff1a1a"]},"legend":null}}},
{"mark":{"type":"rule","strokeWidth":1.5},
"encoding":{"x":{"field":"g","type":"nominal","sort":["WT","SA"],"title":null},"y":{"field":"lo","type":"quantitative","title":"SR Ca²⁺ content"},"y2":{"field":"hi"},"color":{"field":"g","type":"nominal","scale":{"domain":["WT","SA"],"range":["#222222","#ff1a1a"]},"legend":null}}},
{"mark":{"type":"tick","size":10,"thickness":1.5},
"encoding":{"x":{"field":"g","type":"nominal","sort":["WT","SA"],"title":null},"y":{"field":"lo","type":"quantitative","title":"SR Ca²⁺ content"},"color":{"field":"g","type":"nominal","scale":{"domain":["WT","SA"],"range":["#222222","#ff1a1a"]},"legend":null}}},
{"mark":{"type":"tick","size":10,"thickness":1.5},
"encoding":{"x":{"field":"g","type":"nominal","sort":["WT","SA"],"title":null},"y":{"field":"hi","type":"quantitative","title":"SR Ca²⁺ content"},"color":{"field":"g","type":"nominal","scale":{"domain":["WT","SA"],"range":["#222222","#ff1a1a"]},"legend":null}}},
{"data":{"values":[{}]},"mark":{"type":"text","text":"**","fontSize":28,"fontWeight":"bold","baseline":"middle","align":"center"},"encoding":{"x":{"datum":"SA"},"y":{"datum":0.545}}},
{"data":{"values":[{}]},"mark":{"type":"text","text":"C","fontSize":29,"baseline":"middle","align":"left","dx":-164.7},"encoding":{"x":{"datum":"WT"},"y":{"datum":0.641}}}
]
}
],
"columns":1,
"align":"none",
"spacing":15
}
